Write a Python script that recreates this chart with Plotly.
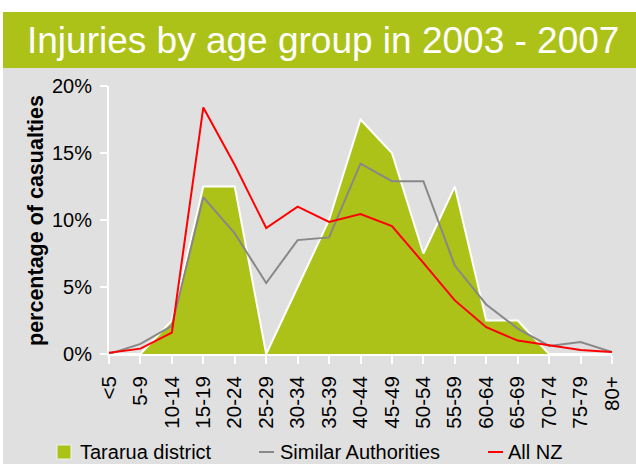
import plotly.graph_objects as go

age_groups = ["<5", "5-9", "10-14", "15-19", "20-24", "25-29", "30-34", "35-39",
              "40-44", "45-49", "50-54", "55-59", "60-64", "65-69", "70-74", "75-79", "80+"]
tararua = [0, 0, 2.5, 12.5, 12.5, 0, 5, 10, 17.5, 15, 7.5, 12.5, 2.5, 2.5, 0, 0, 0]
similar = [0, 0.75, 2.1, 11.7, 9.0, 5.3, 8.5, 8.7, 14.2, 12.9, 12.9, 6.6, 3.7, 1.9, 0.6, 0.9, 0.15]
all_nz = [0.1, 0.4, 1.6, 18.4, 14.1, 9.4, 11.0, 9.85, 10.45, 9.55, 6.8, 4.0, 2.0, 1.0, 0.65, 0.3, 0.15]
y_ticks = [0, 5, 10, 15, 20]
y_tick_labels = ["0%", "5%", "10%", "15%", "20%"]
title_text = "Injuries by age group in 2003 - 2007"
legend_names = ["Tararua district", "Similar Authorities", "All NZ"]

GREEN = "#adc218"
GRAY_BG = "#e0e0e0"
GRAY_LINE = "#888888"
RED = "#ff0000"

W, H = 636, 464
L, R, T, B = 109, 24, 86, 110
PW = W - L - R
PH = H - T - B


def px_x(x):
    return (x - L) / PW


def px_y(y):
    return (H - B - y) / PH


fig = go.Figure()
fig.add_trace(go.Scatter(x=age_groups, y=tararua, mode="lines", fill="tozeroy",
                         fillcolor=GREEN, line=dict(color="white", width=2),
                         name=legend_names[0], showlegend=False))
fig.add_trace(go.Scatter(x=age_groups, y=similar, mode="lines",
                         line=dict(color=GRAY_LINE, width=2),
                         name=legend_names[1], showlegend=False))
fig.add_trace(go.Scatter(x=age_groups, y=all_nz, mode="lines",
                         line=dict(color=RED, width=2),
                         name=legend_names[2], showlegend=False))

LEG_Y = 452
shapes = [
    dict(type="rect", xref="paper", yref="paper", layer="below",
         x0=px_x(3), x1=px_x(W + 5), y0=px_y(H + 5), y1=px_y(68),
         fillcolor=GRAY_BG, line=dict(width=0)),
    dict(type="rect", xref="paper", yref="paper", layer="below",
         x0=px_x(3), x1=px_x(W + 5), y0=px_y(68), y1=px_y(12),
         fillcolor=GREEN, line=dict(width=0)),
    # legend symbols
    dict(type="rect", xref="paper", yref="paper",
         x0=px_x(57), x1=px_x(71), y0=px_y(LEG_Y + 7), y1=px_y(LEG_Y - 7),
         fillcolor=GREEN, line=dict(color="#f0f0f0", width=1)),
    dict(type="line", xref="paper", yref="paper",
         x0=px_x(259), x1=px_x(274), y0=px_y(LEG_Y), y1=px_y(LEG_Y),
         line=dict(color=GRAY_LINE, width=2)),
    dict(type="line", xref="paper", yref="paper",
         x0=px_x(488), x1=px_x(503), y0=px_y(LEG_Y), y1=px_y(LEG_Y),
         line=dict(color=RED, width=2)),
]

font_family = "Liberation Sans, Arial, sans-serif"
annotations = [
    dict(text=title_text, xref="paper", yref="paper", x=px_x(25), y=px_y(41),
         xanchor="left", yanchor="middle", showarrow=False,
         font=dict(family=font_family, size=37, color="white")),
    dict(text=legend_names[0], xref="paper", yref="paper", x=px_x(78), y=px_y(LEG_Y),
         xanchor="left", yanchor="middle", showarrow=False,
         font=dict(family=font_family, size=20, color="black")),
    dict(text=legend_names[1], xref="paper", yref="paper", x=px_x(278), y=px_y(LEG_Y),
         xanchor="left", yanchor="middle", showarrow=False,
         font=dict(family=font_family, size=20, color="black")),
    dict(text=legend_names[2], xref="paper", yref="paper", x=px_x(506), y=px_y(LEG_Y),
         xanchor="left", yanchor="middle", showarrow=False,
         font=dict(family=font_family, size=20, color="black")),
    dict(text="<b>percentage of casualties</b>", xref="paper", yref="paper",
         x=px_x(36), y=px_y(221), xanchor="center", yanchor="middle",
         textangle=-90, showarrow=False,
         font=dict(family=font_family, size=21.5, color="black")),
]

fig.update_layout(
    width=W, height=H,
    margin=dict(l=L, r=R, t=T, b=B),
    paper_bgcolor="white",
    plot_bgcolor="rgba(0,0,0,0)",
    shapes=shapes,
    annotations=annotations,
    showlegend=False,
    font=dict(family=font_family, color="black"),
)
fig.update_xaxes(
    type="category", range=[0, len(age_groups) - 1], automargin=False,
    showgrid=False, zeroline=False,
    showline=True, linecolor="white", linewidth=2,
    ticks="outside", tickcolor="white", tickwidth=2, ticklen=8,
    tickangle=-90, tickfont=dict(size=20.5, color="black"),
    ticklabelstandoff=4,
)
fig.update_yaxes(
    range=[0, 20], tickmode="array", tickvals=y_ticks, ticktext=y_tick_labels,
    automargin=False,
    showgrid=False, zeroline=False,
    showline=True, linecolor="white", linewidth=2,
    ticks="outside", tickcolor="white", tickwidth=2, ticklen=7,
    tickfont=dict(size=20, color="black"),
    ticklabelstandoff=4,
)

fig.write_html("out.html",
               config={"displayModeBar": False},
               post_script="document.body.style.margin='0';document.body.style.overflow='hidden';")
